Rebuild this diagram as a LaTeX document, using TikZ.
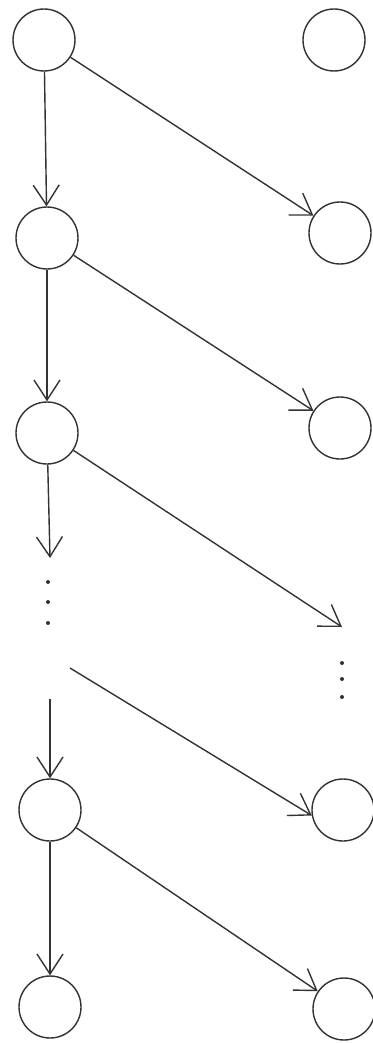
\documentclass[tikz,border=0pt]{standalone}
\usetikzlibrary{arrows.meta}
\definecolor{ink}{HTML}{333333}
\begin{document}
\begin{tikzpicture}[x=1pt,y=-1pt,
  state/.style={circle,draw=ink,line width=1.4pt,minimum size=62pt,inner sep=0pt},
  edge/.style={draw=ink,line width=1.4pt,-{Straight Barb[length=20pt,width=26pt,line width=1.4pt]}},
  dot/.style={fill=ink}]
\useasboundingbox (0,0) rectangle (372,1043);
\fill[white] (0,0) rectangle (372,1043);
% nodes
\node[state] (L1) at (44,40) {};
\node[state] (R1) at (334,40) {};
\node[state] (L2) at (47,238) {};
\node[state] (R2) at (340,233) {};
\node[state] (L3) at (47,433) {};
\node[state] (R3) at (340,428) {};
\node[state] (L4) at (50,810) {};
\node[state] (R4) at (343,810) {};
\node[state] (L5) at (50,1007) {};
\node[state] (R5) at (344,1009) {};
\coordinate (D1) at (50,558);
\coordinate (D2) at (342,627);
\coordinate (S1) at (70,668);
\coordinate (S2) at (50,699);
% connectors
\draw[edge] (L1) -- (L2);
\draw[edge] (L1) -- (R2);
\draw[edge] (L2) -- (L3);
\draw[edge] (L2) -- (R3);
\draw[edge] (L3) -- (D1);
\draw[edge] (L3) -- (D2);
\draw[edge] (S1) -- (R4.190);
\draw[edge] (S2) -- (L4);
\draw[edge] (L4) -- (L5);
\draw[edge] (L4) -- (R5);
% dots
\foreach \y in {582,602,623} \fill[dot] (48,\y) circle (2pt);
\foreach \y in {663,679,697} \fill[dot] (342,\y) circle (2pt);
\end{tikzpicture}
\end{document}
